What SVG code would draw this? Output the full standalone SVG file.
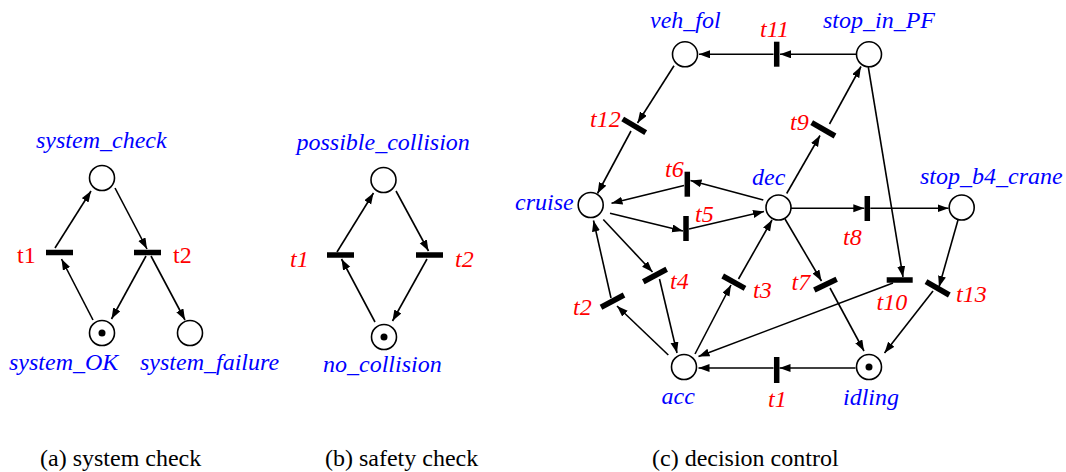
<svg xmlns="http://www.w3.org/2000/svg" width="1066" height="472" viewBox="0 0 1066 472">
<style>
.pl{fill:#fff;stroke:#000;stroke-width:1.6}
.tk{fill:#000}
.bar{stroke:#000;stroke-width:5.5;stroke-linecap:butt}
.arc{stroke:#000;stroke-width:1.6;fill:none}
.ar{marker-end:url(#ah)}
.pn{font-family:"Liberation Serif","Times New Roman",serif;font-style:italic;font-size:24px;fill:#0000ff}
.tn{font-family:"Liberation Serif","Times New Roman",serif;font-style:italic;font-size:24px;fill:#ff0000}
.tu{font-family:"Liberation Serif","Times New Roman",serif;font-size:24px;fill:#ff0000}
.cap{font-family:"Liberation Serif","Times New Roman",serif;font-size:24px;fill:#000}
</style>
<defs>
<marker id="ah" markerUnits="userSpaceOnUse" markerWidth="12" markerHeight="9" refX="11" refY="4" orient="auto">
<path d="M0,0 L11,4 L0,8 z" fill="#000"/>
</marker>
</defs>
<g id="connectors">
<!-- (a) -->
<line class="arc ar" x1="55" y1="248" x2="91" y2="191"/>
<line class="arc ar" x1="115" y1="188" x2="147" y2="249"/>
<line class="arc ar" x1="93" y1="320" x2="61.5" y2="259"/>
<line class="arc ar" x1="146" y1="256" x2="111.5" y2="319"/>
<line class="arc ar" x1="151" y1="256" x2="185" y2="320"/>
<!-- (b) -->
<line class="arc ar" x1="337" y1="252" x2="373.5" y2="193"/>
<line class="arc ar" x1="396" y1="191" x2="428.5" y2="251"/>
<line class="arc ar" x1="375" y1="322" x2="341.5" y2="259"/>
<line class="arc ar" x1="427" y1="259" x2="392.5" y2="321"/>
<!-- (c) -->
<line class="arc ar" x1="856" y1="54.3" x2="780" y2="54.3"/>
<line class="arc ar" x1="773.5" y1="54.3" x2="699" y2="54.3"/>
<line class="arc ar" x1="674" y1="65.7" x2="637.5" y2="123"/>
<line class="arc ar" x1="631" y1="131" x2="597.5" y2="193.5"/>
<line class="arc ar" x1="763.3" y1="200" x2="690.5" y2="180.5"/>
<line class="arc ar" x1="684" y1="185.5" x2="611.5" y2="203.3"/>
<line class="arc ar" x1="610" y1="213.3" x2="683" y2="231"/>
<line class="arc ar" x1="689" y1="229" x2="764" y2="211.5"/>
<line class="arc ar" x1="786.7" y1="193.5" x2="820" y2="135.5"/>
<line class="arc ar" x1="829.5" y1="124" x2="861" y2="66.5"/>
<line class="arc ar" x1="791" y1="208.3" x2="864.3" y2="208.3"/>
<line class="arc ar" x1="870.3" y1="208.3" x2="948.5" y2="208.3"/>
<line class="arc ar" x1="868.3" y1="67" x2="903" y2="277"/>
<line class="arc ar" x1="958" y1="220" x2="939" y2="287"/>
<line class="arc ar" x1="785" y1="219" x2="821.5" y2="281"/>
<line class="arc ar" x1="830" y1="288" x2="864" y2="351"/>
<line class="arc ar" x1="933" y1="291" x2="884.5" y2="353"/>
<line class="arc ar" x1="893" y1="283" x2="698.5" y2="356.5"/>
<line class="arc ar" x1="855.5" y1="368" x2="779.5" y2="368"/>
<line class="arc ar" x1="773.5" y1="368" x2="698.5" y2="368"/>
<line class="arc ar" x1="668.3" y1="355" x2="617" y2="306"/>
<line class="arc ar" x1="611" y1="298" x2="593.5" y2="220.5"/>
<line class="arc ar" x1="603.3" y1="219.5" x2="652.5" y2="272"/>
<line class="arc ar" x1="659.5" y1="279" x2="677" y2="353"/>
<line class="arc ar" x1="695" y1="354" x2="731" y2="285"/>
<line class="arc ar" x1="738.5" y1="279" x2="772" y2="220"/>
</g>
<g id="a_system_check"><circle class="pl" cx="102" cy="178" r="12.5"/><text class="pn" x="36" y="148">system_check</text></g>
<g id="a_t1"><line class="bar" x1="46" y1="252.5" x2="73" y2="252.5"/><text class="tu" x="17" y="263">t1</text></g>
<g id="a_t2"><line class="bar" x1="134" y1="252.5" x2="161" y2="252.5"/><text class="tu" x="173" y="263">t2</text></g>
<g id="a_system_OK"><circle class="pl" cx="102" cy="333" r="12.5"/><circle class="tk" cx="102" cy="333" r="3.5"/><text class="pn" x="9" y="370">system_OK</text></g>
<g id="a_system_failure"><circle class="pl" cx="190" cy="333" r="12.5"/><text class="pn" x="140" y="370">system_failure</text></g>

<g id="b_possible_collision"><circle class="pl" cx="383.5" cy="180" r="12.5"/><text class="pn" x="296.5" y="150">possible_collision</text></g>
<g id="b_t1"><line class="bar" x1="327" y1="255" x2="354" y2="255"/><text class="tn" x="290" y="267">t1</text></g>
<g id="b_t2"><line class="bar" x1="416" y1="255" x2="443" y2="255"/><text class="tn" x="455" y="267">t2</text></g>
<g id="b_no_collision"><circle class="pl" cx="384" cy="337" r="12.5"/><circle class="tk" cx="384" cy="337" r="3.5"/><text class="pn" x="323" y="372">no_collision</text></g>

<g id="c_veh_fol"><circle class="pl" cx="685" cy="54.3" r="12.5"/><text class="pn" x="650" y="28">veh_fol</text></g>
<g id="c_stop_in_PF"><circle class="pl" cx="869" cy="54.3" r="12.5"/><text class="pn" x="823" y="28">stop_in_PF</text></g>
<g id="c_cruise"><circle class="pl" cx="590.7" cy="205" r="12.5"/><text class="pn" x="515" y="210">cruise</text></g>
<g id="c_dec"><circle class="pl" cx="778.5" cy="207.5" r="12.5"/><text class="pn" x="752" y="185">dec</text></g>
<g id="c_stop_b4_crane"><circle class="pl" cx="961.7" cy="207.5" r="12.5"/><text class="pn" x="920" y="183.5">stop_b4_crane</text></g>
<g id="c_acc"><circle class="pl" cx="684" cy="367" r="12.5"/><text class="pn" x="661.5" y="403.5">acc</text></g>
<g id="c_idling"><circle class="pl" cx="869" cy="367" r="12.5"/><circle class="tk" cx="869" cy="367" r="3.5"/><text class="pn" x="843" y="405">idling</text></g>

<g id="c_t11"><line class="bar" x1="776.7" y1="41.7" x2="776.7" y2="66.7"/><text class="tn" x="760" y="37">t11</text></g>
<g id="c_t12"><line class="bar" x1="622.7" y1="119" x2="645.7" y2="132.7"/><text class="tn" x="590" y="127">t12</text></g>
<g id="c_t6"><line class="bar" x1="687.3" y1="171.7" x2="687.3" y2="196.7"/><text class="tn" x="665" y="177">t6</text></g>
<g id="c_t5"><line class="bar" x1="686" y1="216" x2="686" y2="241"/><text class="tn" x="695" y="222">t5</text></g>
<g id="c_t9"><line class="bar" x1="811.7" y1="122.7" x2="835" y2="136"/><text class="tn" x="790" y="130">t9</text></g>
<g id="c_t8"><line class="bar" x1="867.3" y1="196" x2="867.3" y2="221"/><text class="tn" x="843" y="245">t8</text></g>
<g id="c_t7"><line class="bar" x1="814.3" y1="290" x2="836.7" y2="279.3"/><text class="tn" x="791.5" y="290">t7</text></g>
<g id="c_t10"><line class="bar" x1="886.7" y1="280" x2="912.7" y2="280"/><text class="tn" x="876.5" y="310">t10</text></g>
<g id="c_t13"><line class="bar" x1="926" y1="281.7" x2="949.3" y2="295"/><text class="tn" x="956" y="302">t13</text></g>
<g id="c_t2"><line class="bar" x1="601" y1="307.3" x2="624" y2="295"/><text class="tn" x="573" y="314.5">t2</text></g>
<g id="c_t4"><line class="bar" x1="643.3" y1="281.7" x2="666.7" y2="269.3"/><text class="tn" x="670" y="288.5">t4</text></g>
<g id="c_t3"><line class="bar" x1="722.7" y1="276" x2="745" y2="288.3"/><text class="tn" x="753" y="297.5">t3</text></g>
<g id="c_t1"><line class="bar" x1="776.7" y1="357" x2="776.7" y2="383"/><text class="tn" x="768" y="407">t1</text></g>

<g id="captions">
<text class="cap" x="40" y="466">(a) system check</text>
<text class="cap" x="325" y="466">(b) safety check</text>
<text class="cap" x="652" y="466">(c) decision control</text>
</g>
</svg>
